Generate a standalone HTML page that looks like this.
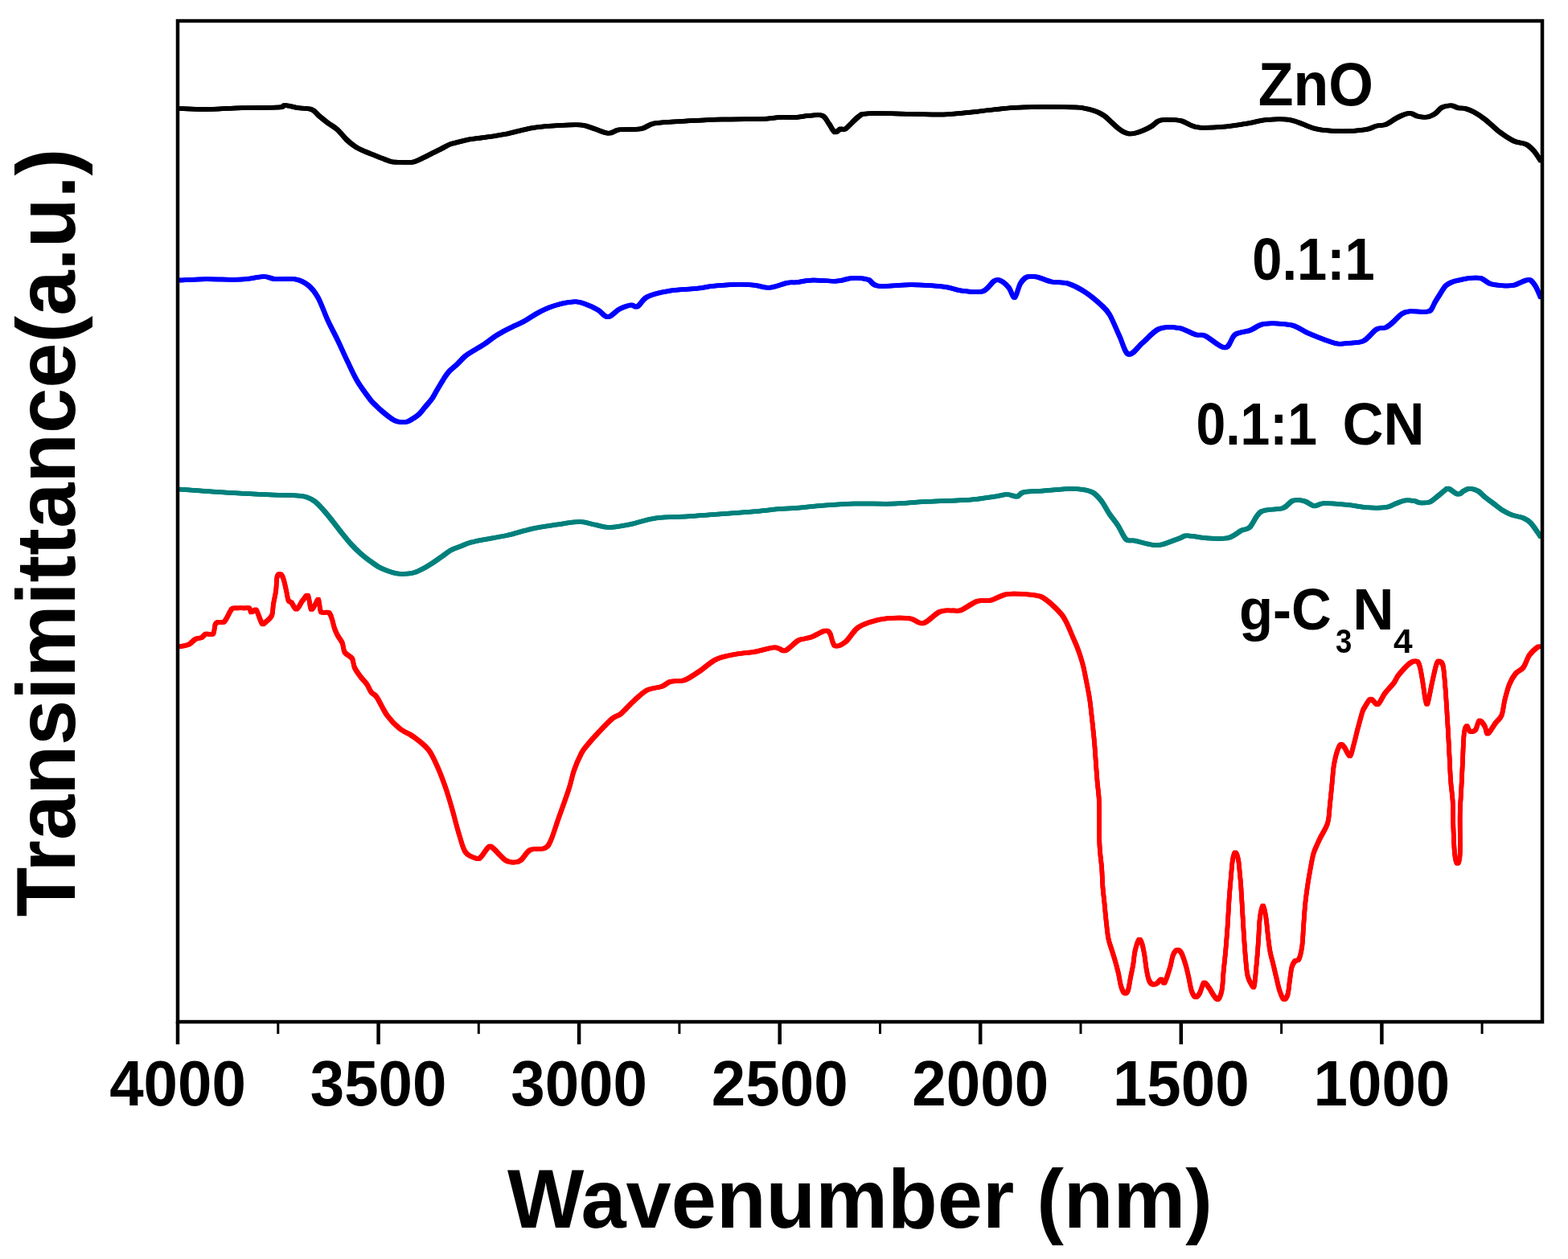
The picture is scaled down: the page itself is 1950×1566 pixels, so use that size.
<!DOCTYPE html><html><head><meta charset="utf-8"><title>FTIR</title><style>html,body{margin:0;padding:0;background:#fff;overflow:hidden}svg{display:block}text{font-family:"Liberation Sans",Arial,sans-serif;font-weight:bold;fill:#000}</style></head><body>
<svg width="1950" height="1566" viewBox="0 0 1950 1566">
<rect x="0" y="0" width="1950" height="1566" fill="#fff"/>
<defs><path id="ck" fill="none" stroke="#000" stroke-linejoin="round" stroke-linecap="round" d="M223.2,135.0C228.7,135.2 243.0,136.1 256.0,136.0C269.0,135.9 285.9,134.6 301.0,134.2C316.1,133.8 337.4,134.1 346.3,133.6C355.2,133.1 350.4,131.0 354.5,131.1C358.6,131.2 365.4,133.3 371.0,134.2C376.6,135.1 383.6,134.6 387.9,136.3C392.2,138.0 393.5,141.4 396.9,144.2C400.3,147.0 404.4,150.4 408.2,153.2C412.0,156.0 415.7,157.7 419.5,161.1C423.3,164.5 427.1,169.9 430.8,173.5C434.6,177.1 438.2,180.1 442.0,182.5C445.8,184.9 449.5,186.5 453.3,188.2C457.1,189.9 460.8,191.2 464.6,192.7C468.4,194.2 472.1,195.8 475.9,197.2C479.7,198.6 483.4,200.4 487.2,201.2C491.0,201.9 494.2,201.6 498.5,201.7C502.8,201.8 508.4,202.6 513.1,201.7C517.8,200.8 522.6,198.0 526.7,196.1C530.8,194.2 534.1,192.3 537.9,190.4C541.6,188.5 545.4,186.7 549.2,184.8C553.0,182.9 556.7,180.6 560.5,179.2C564.3,177.8 568.0,177.2 571.8,176.3C575.6,175.4 578.4,174.3 583.1,173.5C587.8,172.7 592.0,172.5 600.0,171.3C608.0,170.1 620.5,168.4 630.8,166.4C641.0,164.4 651.2,160.9 661.5,159.2C671.8,157.5 682.0,156.8 692.3,156.2C702.5,155.6 715.1,154.8 723.0,155.5C730.9,156.2 733.8,158.6 739.5,160.3C745.2,162.0 751.9,165.6 757.0,165.8C762.1,166.0 763.6,162.2 770.3,161.3C777.0,160.4 789.8,161.6 797.0,160.3C804.2,159.0 805.1,155.1 813.3,153.5C821.5,151.9 832.0,151.8 846.0,151.0C860.0,150.2 880.3,149.1 897.4,148.6C914.5,148.1 936.7,148.4 948.7,148.0C960.7,147.6 962.3,146.2 969.2,145.9C976.1,145.6 983.8,146.2 990.0,145.9C996.2,145.6 1000.9,144.2 1006.4,143.8C1011.9,143.5 1018.7,142.1 1022.8,143.8C1026.9,145.5 1028.4,150.7 1031.0,154.1C1033.6,157.5 1035.8,163.4 1038.2,164.4C1040.6,165.4 1043.2,161.0 1045.4,160.3C1047.6,159.6 1047.7,162.9 1051.5,160.3C1055.3,157.7 1063.2,148.1 1068.0,144.9C1072.8,141.7 1069.4,141.7 1080.3,141.2C1091.2,140.7 1117.9,141.6 1133.6,141.8C1149.3,142.0 1160.9,142.9 1174.6,142.4C1188.3,141.9 1201.9,140.1 1215.6,138.7C1229.3,137.3 1243.0,135.1 1256.7,134.2C1270.4,133.2 1284.0,133.1 1297.7,133.0C1311.4,132.9 1329.9,133.2 1338.7,133.6C1347.5,133.9 1346.8,134.5 1350.3,135.1C1353.8,135.7 1357.0,136.6 1359.5,137.4C1362.0,138.2 1363.3,138.6 1365.6,139.7C1367.9,140.8 1370.7,142.2 1373.3,144.1C1375.9,145.9 1378.4,148.5 1381.0,150.8C1383.6,153.1 1386.1,155.9 1388.7,158.0C1391.3,160.1 1393.8,162.2 1396.4,163.6C1399.0,165.0 1401.5,166.1 1404.1,166.4C1406.7,166.7 1408.8,166.3 1411.8,165.6C1414.8,164.9 1418.6,163.5 1422.0,162.1C1425.4,160.7 1429.3,158.8 1432.3,156.9C1435.3,155.0 1437.4,152.1 1440.0,150.8C1442.6,149.5 1443.0,149.1 1447.7,149.0C1452.4,148.9 1461.4,148.5 1468.2,150.0C1475.0,151.5 1479.5,156.9 1488.7,158.2C1497.9,159.5 1512.6,158.5 1523.6,157.6C1534.5,156.7 1545.9,154.4 1554.4,153.0C1563.0,151.6 1566.4,149.6 1574.9,149.0C1583.4,148.4 1595.3,147.5 1605.6,149.4C1615.8,151.3 1626.1,158.0 1636.4,160.3C1646.7,162.6 1656.9,163.1 1667.2,163.3C1677.5,163.5 1690.6,162.4 1698.0,161.3C1705.4,160.2 1707.5,157.7 1711.8,156.6C1716.1,155.5 1719.7,156.3 1723.6,154.8C1727.5,153.3 1731.9,149.7 1735.4,147.7C1738.9,145.7 1741.7,144.1 1744.8,143.0C1747.9,141.9 1751.1,140.6 1754.3,140.9C1757.5,141.2 1760.2,144.1 1763.7,144.8C1767.2,145.6 1772.0,146.0 1775.5,145.4C1779.0,144.8 1782.0,143.3 1784.9,141.3C1787.9,139.3 1789.9,135.3 1793.2,133.6C1796.5,131.9 1801.7,131.1 1805.0,131.2C1808.3,131.3 1810.5,133.6 1813.2,134.2C1816.0,134.8 1818.2,133.9 1821.5,134.8C1824.8,135.7 1829.0,137.2 1833.3,139.5C1837.6,141.8 1842.1,144.8 1847.4,148.9C1852.7,153.0 1859.2,159.9 1865.1,164.3C1871.0,168.7 1877.3,172.9 1882.8,175.5C1888.3,178.1 1894.1,177.5 1898.2,179.6C1902.3,181.7 1904.7,184.5 1907.6,187.8C1910.5,191.1 1914.4,197.6 1915.8,199.6"/><path id="cb" fill="none" stroke="#0000ff" stroke-linejoin="round" stroke-linecap="round" d="M222.2,348.6C227.8,348.4 242.8,347.4 256.0,347.2C269.2,347.0 289.2,348.2 301.2,347.6C313.2,347.1 321.0,344.0 327.8,343.9C334.6,343.8 335.7,346.6 342.2,347.2C348.7,347.8 360.0,345.9 366.8,347.2C373.6,348.4 378.4,350.9 383.2,354.7C388.0,358.5 391.4,362.8 395.5,370.1C399.6,377.5 403.7,389.9 407.8,398.8C411.9,407.7 416.0,414.9 420.1,423.5C424.2,432.1 428.3,441.6 432.4,450.1C436.5,458.6 440.1,467.0 444.7,474.7C449.3,482.4 456.2,491.4 460.0,496.4C463.8,501.4 465.1,502.0 467.7,504.6C470.3,507.2 472.8,509.6 475.4,511.8C478.0,514.0 480.5,516.0 483.1,517.9C485.7,519.8 488.2,521.9 490.8,523.1C493.4,524.3 495.9,524.9 498.5,525.1C501.1,525.4 503.6,525.4 506.2,524.6C508.8,523.8 511.2,522.1 513.8,520.5C516.3,518.9 518.9,517.4 521.5,514.9C524.1,512.4 526.6,508.7 529.2,505.6C531.8,502.5 534.6,499.6 536.9,496.4C539.2,493.2 540.5,490.3 542.9,486.2C545.3,482.1 548.9,475.8 551.5,471.8C554.1,467.8 555.5,465.2 558.4,462.1C561.3,459.0 565.2,456.2 568.7,452.9C572.2,449.6 575.3,445.6 579.1,442.5C582.9,439.4 587.7,437.0 591.7,434.5C595.7,432.0 599.4,430.2 603.2,427.6C607.0,425.0 610.9,421.6 614.7,419.0C618.5,416.4 622.4,414.2 626.2,412.1C630.0,410.0 633.5,408.3 637.7,406.3C641.9,404.3 645.6,403.0 651.3,399.9C657.0,396.8 665.0,391.0 671.8,387.6C678.6,384.2 685.1,381.4 692.3,379.4C699.5,377.3 709.1,375.6 714.9,375.3C720.7,375.1 722.4,376.2 727.2,377.9C732.0,379.6 738.8,382.8 743.6,385.5C748.4,388.2 751.5,394.5 755.9,394.3C760.3,394.1 765.5,387.0 770.3,384.5C775.1,382.0 780.9,379.9 784.6,379.4C788.4,378.9 789.4,383.1 792.8,381.4C796.2,379.7 798.6,372.4 805.1,369.1C811.6,365.9 821.5,363.6 831.8,361.9C842.1,360.2 857.5,359.8 866.7,358.8C875.9,357.8 878.7,356.7 887.2,355.8C895.8,354.9 909.5,353.9 918.0,353.7C926.5,353.5 932.0,354.0 938.5,354.7C945.0,355.4 950.1,358.3 956.9,357.8C963.7,357.3 974.0,352.8 979.5,351.7C985.0,350.6 984.8,351.8 990.0,351.3C995.2,350.8 1002.0,348.9 1010.5,348.6C1019.0,348.3 1033.8,350.0 1041.3,349.6C1048.8,349.2 1051.1,347.1 1055.6,346.5C1060.0,345.9 1063.9,345.6 1068.0,345.9C1072.1,346.1 1076.2,346.4 1080.3,348.0C1084.4,349.6 1083.7,354.8 1092.6,355.8C1101.5,356.9 1119.9,354.1 1133.6,354.3C1147.3,354.5 1164.3,355.6 1174.6,356.8C1184.8,358.0 1187.2,360.6 1195.1,361.5C1203.0,362.4 1214.9,364.5 1221.8,362.5C1228.7,360.5 1232.4,351.8 1236.2,349.6C1240.0,347.4 1241.3,347.8 1244.4,349.2C1247.5,350.6 1251.7,354.3 1254.6,357.8C1257.5,361.3 1259.4,371.0 1261.8,370.1C1264.2,369.2 1266.4,357.0 1269.0,352.7C1271.6,348.4 1273.8,345.9 1277.2,344.5C1280.6,343.1 1284.4,343.5 1289.5,344.5C1294.6,345.5 1301.5,349.2 1308.0,350.6C1314.5,352.0 1321.7,350.6 1328.5,352.7C1335.3,354.8 1342.2,358.6 1349.0,363.0C1355.8,367.4 1364.3,374.6 1369.5,379.4C1374.7,384.1 1376.2,385.0 1380.0,391.5C1383.8,398.0 1388.4,410.0 1392.3,418.2C1396.2,426.4 1398.8,439.4 1403.6,440.8C1408.4,442.2 1414.7,431.7 1421.0,426.4C1427.3,421.1 1434.0,412.1 1441.5,409.0C1449.0,405.9 1458.7,406.8 1466.2,408.0C1473.7,409.2 1481.2,414.6 1486.7,416.2C1492.2,417.8 1492.8,415.1 1499.0,417.8C1505.2,420.5 1517.4,432.9 1523.6,432.6C1529.8,432.3 1530.8,419.8 1535.9,416.2C1541.0,412.6 1548.2,413.2 1554.4,411.0C1560.6,408.8 1564.3,403.9 1572.8,402.8C1581.3,401.7 1596.7,402.4 1605.6,404.3C1614.5,406.2 1619.3,411.1 1626.2,414.1C1633.1,417.1 1640.6,420.1 1646.7,422.3C1652.8,424.5 1658.0,426.6 1663.1,427.4C1668.2,428.1 1671.9,427.4 1677.4,426.8C1682.9,426.2 1690.2,426.9 1695.9,424.0C1701.6,421.1 1707.2,412.4 1711.8,409.6C1716.4,406.8 1720.1,408.9 1723.6,407.3C1727.1,405.7 1729.7,403.1 1733.0,400.2C1736.3,397.3 1740.2,392.4 1743.6,390.2C1746.9,388.0 1748.6,387.6 1753.1,387.2C1757.6,386.8 1766.5,388.0 1770.8,387.8C1775.1,387.6 1776.7,388.2 1779.0,386.1C1781.3,384.0 1782.9,378.8 1784.9,375.4C1786.9,372.0 1788.6,369.3 1790.8,366.0C1793.0,362.7 1795.3,357.9 1797.9,355.4C1800.5,352.8 1802.9,352.0 1806.2,350.7C1809.5,349.4 1814.5,348.5 1818.0,347.7C1821.5,346.9 1823.5,346.3 1827.4,346.0C1831.3,345.7 1837.2,344.8 1841.5,346.0C1845.8,347.2 1848.4,351.4 1853.3,353.0C1858.2,354.6 1866.1,355.1 1871.0,355.4C1875.9,355.7 1879.5,355.5 1882.8,354.8C1886.1,354.1 1888.3,352.4 1891.1,351.3C1893.8,350.2 1897.1,348.7 1899.3,348.3C1901.5,347.9 1902.2,347.5 1904.0,348.9C1905.8,350.3 1908.0,353.2 1910.0,356.6C1912.0,360.0 1914.8,367.4 1915.8,369.5"/><path id="ct" fill="none" stroke="#00807c" stroke-linejoin="round" stroke-linecap="round" d="M222.2,608.5C227.8,608.9 243.5,610.0 256.0,610.9C268.5,611.8 283.3,612.8 297.0,613.6C310.7,614.4 325.9,615.1 338.1,615.6C350.3,616.1 363.0,616.1 370.0,616.5C377.0,616.9 376.4,616.7 380.0,617.9C383.6,619.1 387.5,620.7 391.3,623.5C395.1,626.3 398.9,630.6 402.6,634.8C406.4,638.9 410.1,643.7 413.8,648.4C417.6,653.1 421.3,658.3 425.1,663.0C428.9,667.7 432.6,672.5 436.4,676.6C440.2,680.7 443.9,684.4 447.7,687.8C451.5,691.2 455.2,694.1 459.0,696.9C462.8,699.7 466.6,702.6 470.3,704.8C474.1,706.9 477.8,708.4 481.5,709.8C485.2,711.2 489.0,712.5 492.8,713.2C496.6,713.9 500.3,714.0 504.1,713.8C507.9,713.6 511.6,713.2 515.4,712.1C519.2,711.0 523.0,709.0 526.7,707.0C530.5,705.0 534.1,702.7 537.9,700.3C541.6,697.9 545.4,695.0 549.2,692.4C553.0,689.8 556.7,686.6 560.5,684.5C564.3,682.4 568.0,681.4 571.8,679.9C575.6,678.4 578.4,676.8 583.1,675.4C587.8,674.0 592.0,673.1 600.0,671.5C608.0,669.9 620.5,668.2 630.8,665.9C641.0,663.6 651.2,659.9 661.5,657.7C671.8,655.5 682.4,654.0 692.3,652.6C702.2,651.2 713.1,649.1 721.0,649.1C728.9,649.1 733.3,651.5 739.5,652.6C745.7,653.8 750.5,656.1 758.0,656.0C765.5,655.9 775.0,653.9 784.6,652.0C794.2,650.1 803.4,646.0 815.4,644.4C827.4,642.8 842.7,643.2 856.4,642.3C870.1,641.4 883.7,640.2 897.4,639.2C911.1,638.2 926.5,637.2 938.5,636.2C950.5,635.2 960.6,633.8 969.2,633.1C977.8,632.4 981.4,632.7 990.0,632.0C998.6,631.3 1008.8,629.9 1020.8,629.0C1032.8,628.1 1046.4,626.9 1061.8,626.5C1077.2,626.1 1097.6,627.0 1113.0,626.5C1128.4,626.0 1138.7,624.6 1154.1,623.8C1169.5,623.0 1191.7,622.8 1205.4,621.8C1219.1,620.8 1228.3,618.8 1236.2,617.7C1244.1,616.6 1247.8,615.0 1252.6,615.0C1257.4,615.0 1261.5,618.2 1264.9,617.7C1268.3,617.2 1267.6,613.4 1273.1,612.2C1278.6,611.0 1288.5,611.2 1297.7,610.5C1306.9,609.8 1320.3,608.3 1328.5,608.0C1336.7,607.7 1341.8,608.1 1346.9,608.9C1352.0,609.7 1355.4,610.3 1359.2,612.6C1363.0,614.9 1366.1,618.4 1369.5,622.8C1372.9,627.2 1376.2,634.1 1379.7,639.2C1383.2,644.3 1386.8,648.3 1390.3,653.6C1393.8,658.9 1397.1,667.9 1400.5,671.0C1403.9,674.1 1405.3,671.4 1410.8,672.5C1416.3,673.6 1427.5,677.0 1433.3,677.8C1439.1,678.6 1439.8,678.7 1445.6,677.2C1451.4,675.7 1463.1,670.8 1468.2,669.0C1473.3,667.2 1470.6,666.2 1476.4,666.3C1482.2,666.4 1494.5,669.1 1503.1,669.6C1511.6,670.1 1520.9,670.6 1527.7,669.0C1534.5,667.4 1539.6,661.9 1544.1,659.7C1548.5,657.5 1550.3,659.5 1554.4,655.6C1558.5,651.7 1561.9,640.1 1568.7,636.2C1575.5,632.3 1588.9,634.3 1595.4,632.1C1601.9,629.9 1603.2,624.3 1607.7,622.8C1612.2,621.3 1617.6,622.1 1622.1,623.2C1626.5,624.3 1630.3,629.0 1634.4,629.4C1638.5,629.8 1639.5,626.1 1646.7,625.9C1653.9,625.7 1668.5,627.1 1677.4,628.0C1686.3,628.9 1692.3,630.8 1700.0,631.3C1707.7,631.8 1717.7,631.8 1723.6,631.0C1729.5,630.2 1731.5,628.0 1735.4,626.6C1739.3,625.2 1743.3,623.1 1747.2,622.5C1751.1,621.9 1755.9,622.6 1759.0,623.1C1762.1,623.6 1762.9,625.1 1766.0,625.4C1769.1,625.6 1774.2,625.9 1777.8,624.6C1781.3,623.3 1784.1,620.1 1787.3,617.7C1790.5,615.3 1794.3,611.8 1796.7,610.1C1799.1,608.4 1798.7,606.9 1801.4,607.7C1804.2,608.5 1810.1,614.3 1813.2,614.8C1816.3,615.3 1817.9,611.9 1820.3,610.7C1822.7,609.5 1824.5,607.7 1827.4,607.7C1830.4,607.7 1834.7,608.8 1838.0,610.7C1841.3,612.6 1844.2,616.4 1847.4,618.9C1850.6,621.4 1853.4,623.4 1856.9,626.0C1860.5,628.6 1864.8,632.3 1868.7,634.8C1872.6,637.2 1876.2,639.1 1880.5,640.7C1884.8,642.3 1890.7,642.6 1894.6,644.3C1898.5,646.0 1900.5,647.0 1904.0,650.8C1907.5,654.6 1913.8,664.5 1915.8,667.3"/><path id="cr" fill="none" stroke="#ff0000" stroke-linejoin="round" stroke-linecap="round" d="M222.0,804.5C223.2,804.3 226.8,803.7 229.1,803.2C231.3,802.7 233.2,802.7 235.5,801.3C237.8,799.9 240.6,796.3 243.2,794.9C245.8,793.5 248.8,794.1 250.9,793.0C253.0,791.9 253.7,789.2 256.0,788.5C258.4,787.8 263.1,790.4 265.0,788.5C266.9,786.6 266.5,779.4 267.6,776.9C268.7,774.4 269.5,774.3 271.4,773.7C273.3,773.1 276.3,775.8 279.1,773.1C281.9,770.4 285.5,760.5 288.1,757.7C290.7,754.9 291.9,756.6 294.5,756.4C297.1,756.2 300.9,756.4 303.5,756.4C306.1,756.4 308.4,755.5 309.9,756.4C311.4,757.2 311.1,761.2 312.4,761.5C313.7,761.8 316.3,758.3 317.6,758.3C318.9,758.3 318.7,758.6 320.1,761.5C321.5,764.4 324.2,773.6 325.9,775.6C327.6,777.6 328.4,775.4 330.4,773.7C332.4,772.0 336.5,769.1 338.1,765.4C339.7,761.7 339.1,756.4 340.0,751.3C340.9,746.2 342.4,740.1 343.2,734.6C343.9,729.1 343.6,721.4 344.5,718.0C345.4,714.6 347.0,713.9 348.3,714.1C349.6,714.3 350.9,715.8 352.2,719.2C353.5,722.6 354.9,730.0 356.0,734.6C357.1,739.2 357.5,744.3 358.6,746.8C359.7,749.3 360.7,747.6 362.4,749.4C364.1,751.2 366.4,758.1 368.8,757.7C371.2,757.3 374.1,749.6 376.5,746.8C378.9,744.0 381.3,739.2 383.0,741.0C384.7,742.8 385.3,755.9 386.8,757.7C388.3,759.5 390.4,753.9 391.9,751.9C393.4,749.9 394.9,745.4 395.8,745.5C396.7,745.6 396.7,749.6 397.3,752.3C397.9,755.0 397.7,759.9 399.6,761.5C401.5,763.1 406.6,760.6 408.8,761.9C411.0,763.2 411.5,766.1 412.6,769.2C413.8,772.3 414.6,777.3 415.7,780.7C416.8,784.1 417.8,786.6 419.5,789.8C421.2,793.0 424.2,796.2 425.7,799.8C427.2,803.4 426.7,808.1 428.7,811.3C430.7,814.5 435.8,815.8 437.9,819.0C439.9,822.2 439.2,826.7 441.0,830.5C442.8,834.3 446.1,838.6 448.6,842.0C451.2,845.4 454.1,847.9 456.3,851.1C458.5,854.3 459.6,858.4 461.7,861.1C463.8,863.8 465.3,862.5 468.6,867.2C471.9,872.0 476.6,883.2 481.3,889.6C486.0,896.0 490.9,901.3 496.6,905.9C502.4,910.5 509.7,912.9 515.8,917.4C521.9,921.9 528.2,926.5 533.0,932.7C537.8,938.9 541.0,947.0 544.5,954.8C548.0,962.6 551.2,971.4 554.1,979.7C557.0,988.0 558.9,994.7 561.8,1004.6C564.7,1014.5 568.4,1029.8 571.3,1039.0C574.2,1048.2 575.5,1055.3 579.0,1060.1C582.5,1064.9 589.2,1066.8 592.4,1067.8C595.6,1068.8 595.7,1068.3 598.2,1065.9C600.8,1063.5 605.2,1055.2 607.7,1053.4C610.2,1051.6 610.0,1052.5 613.5,1055.3C617.0,1058.1 624.3,1067.2 628.8,1070.1C633.3,1073.0 637.1,1072.7 640.3,1072.6C643.5,1072.5 644.8,1072.3 648.0,1069.7C651.2,1067.1 654.7,1059.6 659.5,1057.2C664.3,1054.8 672.6,1057.0 676.7,1055.3C680.9,1053.5 681.5,1052.6 684.4,1046.7C687.3,1040.8 690.1,1030.8 693.9,1019.9C697.7,1009.0 704.1,991.8 707.4,981.6C710.7,971.4 711.2,966.0 713.8,958.5C716.4,951.0 720.3,942.3 723.1,936.9C725.9,931.5 727.5,930.3 730.8,926.2C734.1,922.1 738.0,917.7 743.1,912.3C748.2,906.9 756.6,897.9 761.5,893.8C766.4,889.7 767.9,891.3 772.3,887.7C776.7,884.1 782.3,877.2 787.7,872.3C793.1,867.4 798.7,861.6 804.6,858.5C810.5,855.4 818.2,855.6 823.1,853.8C828.0,852.0 829.2,849.0 833.8,847.7C838.4,846.4 844.9,848.2 850.8,846.2C856.7,844.2 862.8,839.6 869.2,835.4C875.6,831.2 883.0,824.1 889.2,820.8C895.4,817.5 901.3,816.7 906.2,815.4C911.1,814.1 913.1,813.9 918.5,813.1C923.9,812.3 931.3,812.1 938.5,810.8C945.7,809.5 956.4,806.0 961.5,805.4C966.6,804.8 966.6,806.3 969.2,806.9C971.8,807.5 973.0,810.9 976.9,809.2C980.8,807.5 988.4,799.3 992.3,796.9C996.1,794.5 997.0,795.5 1000.0,794.6C1003.0,793.8 1006.2,793.5 1010.5,791.8C1014.8,790.1 1022.3,785.3 1025.9,784.6C1029.5,783.9 1030.0,784.6 1032.1,787.7C1034.1,790.8 1035.0,801.3 1038.2,803.1C1041.4,804.9 1046.9,802.0 1051.5,798.4C1056.1,794.8 1060.8,785.6 1065.9,781.5C1071.0,777.4 1076.2,775.8 1082.3,773.7C1088.4,771.7 1094.6,770.0 1102.8,769.2C1111.0,768.5 1124.0,768.2 1131.5,769.2C1139.0,770.2 1141.8,776.8 1148.0,775.4C1154.2,774.0 1162.3,763.7 1168.5,761.0C1174.7,758.3 1180.5,759.7 1184.9,759.4C1189.3,759.1 1190.0,761.0 1195.1,759.0C1200.2,757.0 1209.4,749.8 1215.6,747.7C1221.8,745.7 1225.8,748.2 1232.0,746.7C1238.2,745.2 1244.7,740.1 1252.6,738.9C1260.5,737.7 1272.7,738.9 1279.6,739.4C1286.5,739.9 1289.9,740.4 1293.9,741.8C1297.9,743.2 1300.3,745.5 1303.5,748.0C1306.7,750.5 1310.1,753.6 1313.1,756.6C1316.1,759.6 1319.3,762.9 1321.7,766.2C1324.1,769.6 1325.6,772.7 1327.5,776.7C1329.4,780.7 1331.3,785.6 1333.2,790.1C1335.1,794.6 1337.2,799.0 1339.0,803.5C1340.8,808.0 1342.4,812.5 1343.8,817.0C1345.2,821.5 1346.5,825.8 1347.6,830.4C1348.7,835.0 1349.5,839.9 1350.5,844.7C1351.5,849.5 1352.4,854.3 1353.3,859.1C1354.2,863.9 1354.9,867.2 1355.7,873.5C1356.5,879.8 1357.4,888.5 1358.3,896.6C1359.2,904.7 1360.2,913.7 1360.9,922.2C1361.7,930.7 1362.2,939.2 1362.8,947.7C1363.4,956.2 1364.0,964.8 1364.7,973.3C1365.4,981.8 1366.5,986.0 1367.0,998.8C1367.5,1011.5 1366.9,1036.3 1367.4,1049.8C1367.9,1063.3 1369.6,1071.3 1370.2,1080.0C1370.8,1088.7 1370.8,1094.5 1371.3,1101.7C1371.8,1108.9 1372.8,1116.2 1373.5,1123.4C1374.2,1130.6 1374.8,1137.8 1375.6,1145.1C1376.4,1152.3 1377.2,1161.1 1378.3,1166.9C1379.4,1172.7 1380.7,1175.4 1382.1,1179.9C1383.5,1184.4 1385.0,1188.9 1386.5,1194.0C1388.0,1199.1 1389.5,1204.9 1390.8,1210.3C1392.1,1215.7 1392.8,1222.4 1394.1,1226.6C1395.4,1230.8 1397.0,1234.4 1398.4,1235.3C1399.9,1236.2 1401.5,1235.3 1402.8,1232.0C1404.1,1228.7 1404.9,1221.1 1406.0,1215.7C1407.1,1210.3 1408.4,1204.8 1409.3,1199.4C1410.2,1194.0 1410.3,1188.2 1411.5,1183.1C1412.7,1178.0 1414.9,1170.6 1416.3,1169.0C1417.7,1167.4 1418.9,1170.1 1420.1,1173.4C1421.3,1176.7 1422.5,1183.3 1423.4,1188.6C1424.3,1193.8 1424.7,1199.8 1425.6,1204.9C1426.5,1210.0 1427.5,1215.8 1428.8,1219.0C1430.1,1222.2 1431.6,1223.7 1433.2,1224.4C1434.8,1225.1 1436.8,1224.4 1438.6,1223.3C1440.4,1222.2 1442.4,1218.1 1444.0,1217.9C1445.6,1217.7 1446.6,1224.6 1448.4,1222.2C1450.2,1219.8 1453.3,1209.0 1455.1,1203.3C1456.8,1197.6 1457.4,1191.5 1458.9,1187.9C1460.4,1184.3 1462.3,1181.9 1464.0,1181.5C1465.7,1181.1 1467.5,1182.4 1469.2,1185.4C1470.9,1188.4 1472.8,1194.5 1474.3,1199.4C1475.8,1204.3 1476.8,1209.3 1478.1,1214.8C1479.4,1220.3 1480.4,1228.3 1481.9,1232.6C1483.4,1236.8 1485.3,1239.9 1487.0,1240.3C1488.7,1240.7 1490.4,1238.2 1492.1,1235.2C1493.8,1232.2 1495.4,1223.5 1497.3,1222.4C1499.2,1221.3 1501.5,1226.0 1503.6,1228.8C1505.7,1231.6 1508.1,1236.7 1510.0,1239.0C1511.9,1241.3 1513.5,1244.1 1515.1,1242.8C1516.7,1241.5 1518.5,1236.9 1519.6,1231.4C1520.7,1225.9 1520.8,1217.5 1521.5,1209.6C1522.2,1201.7 1523.2,1193.7 1524.1,1184.1C1524.9,1174.5 1525.9,1162.8 1526.6,1152.2C1527.3,1141.6 1527.8,1130.9 1528.5,1120.2C1529.2,1109.5 1530.3,1096.8 1531.1,1088.3C1531.8,1079.8 1532.2,1073.9 1533.0,1069.2C1533.8,1064.5 1535.0,1060.2 1536.2,1060.2C1537.4,1060.2 1539.0,1064.5 1540.0,1069.2C1541.0,1073.9 1541.5,1083.0 1542.0,1088.3C1542.5,1093.6 1542.7,1093.6 1543.2,1101.1C1543.7,1108.5 1544.5,1122.4 1545.1,1133.0C1545.7,1143.6 1546.4,1155.3 1547.0,1164.9C1547.6,1174.5 1548.2,1182.4 1548.9,1190.5C1549.7,1198.6 1550.2,1207.8 1551.5,1213.5C1552.8,1219.2 1555.2,1222.9 1556.6,1225.0C1558.0,1227.1 1558.8,1229.8 1559.8,1226.2C1560.8,1222.6 1561.4,1212.5 1562.3,1203.3C1563.2,1194.1 1564.2,1181.5 1564.9,1171.3C1565.7,1161.1 1565.8,1149.5 1566.8,1142.0C1567.8,1134.5 1569.4,1126.6 1570.7,1126.6C1572.0,1126.6 1573.5,1135.6 1574.5,1142.0C1575.5,1148.4 1576.2,1157.9 1577.0,1164.9C1577.8,1171.9 1578.5,1178.3 1579.6,1184.1C1580.7,1189.8 1582.1,1194.1 1583.4,1199.4C1584.7,1204.7 1586.0,1210.7 1587.3,1216.0C1588.6,1221.3 1589.6,1226.9 1591.1,1231.4C1592.6,1235.9 1594.5,1241.8 1596.2,1242.8C1597.9,1243.8 1600.0,1241.5 1601.3,1237.7C1602.6,1233.9 1603.1,1225.6 1603.9,1219.9C1604.8,1214.2 1605.4,1207.3 1606.4,1203.3C1607.5,1199.2 1608.7,1197.3 1610.2,1195.6C1611.7,1193.9 1613.9,1196.0 1615.4,1193.0C1616.9,1190.0 1618.2,1184.5 1619.2,1177.7C1620.2,1170.9 1620.5,1160.7 1621.1,1152.2C1621.7,1143.7 1622.2,1135.1 1623.0,1126.6C1623.8,1118.1 1625.1,1108.5 1626.2,1101.1C1627.3,1093.6 1628.2,1088.3 1629.4,1081.9C1630.6,1075.5 1631.9,1067.7 1633.2,1062.8C1634.5,1057.9 1635.7,1055.9 1637.1,1052.6C1638.5,1049.3 1639.2,1047.7 1641.5,1042.9C1643.8,1038.1 1649.0,1030.7 1651.1,1023.7C1653.2,1016.7 1653.0,1009.3 1653.9,1000.7C1654.9,992.1 1656.0,980.0 1656.8,972.0C1657.6,964.0 1657.7,958.9 1658.7,952.8C1659.7,946.7 1661.1,940.1 1662.6,935.6C1664.0,931.1 1665.8,927.0 1667.4,926.0C1669.0,925.0 1670.2,927.4 1672.1,929.8C1674.0,932.2 1677.0,941.0 1678.9,940.4C1680.8,939.8 1682.0,931.6 1683.6,926.0C1685.2,920.4 1686.6,913.6 1688.4,906.9C1690.2,900.2 1692.8,890.3 1694.2,885.8C1695.6,881.3 1695.2,882.7 1697.0,880.0C1698.8,877.3 1702.0,870.1 1704.7,869.5C1707.4,868.9 1710.4,877.3 1713.3,876.2C1716.2,875.1 1718.7,867.3 1722.0,862.8C1725.3,858.3 1730.5,853.2 1733.4,849.4C1736.3,845.6 1736.0,843.8 1739.2,839.8C1742.4,835.8 1748.8,828.3 1752.6,825.4C1756.4,822.5 1760.0,821.8 1762.2,822.6C1764.4,823.4 1764.7,825.4 1766.0,830.2C1767.3,835.0 1768.7,844.6 1769.8,851.3C1770.9,858.0 1771.7,866.7 1772.7,870.5C1773.7,874.3 1774.2,878.1 1775.6,874.3C1777.0,870.5 1779.4,855.8 1781.3,847.5C1783.2,839.2 1785.3,828.5 1787.1,824.5C1788.9,820.5 1790.6,822.6 1791.9,823.5C1793.2,824.4 1794.1,824.8 1795.0,830.0C1795.9,835.2 1796.7,846.6 1797.4,854.9C1798.1,863.2 1798.5,870.9 1799.1,879.8C1799.7,888.6 1800.2,898.3 1800.8,908.0C1801.3,917.7 1801.9,927.4 1802.4,937.9C1803.0,948.4 1803.4,961.4 1804.1,971.1C1804.8,980.8 1806.0,986.3 1806.6,996.0C1807.1,1005.7 1807.0,1018.1 1807.4,1029.2C1807.8,1040.3 1808.3,1054.9 1809.1,1062.4C1809.9,1069.9 1811.3,1074.0 1812.4,1074.0C1813.5,1074.0 1815.2,1072.6 1815.7,1062.4C1816.2,1052.2 1815.4,1026.4 1815.7,1012.6C1816.0,998.8 1816.9,990.5 1817.4,979.4C1818.0,968.3 1818.5,957.3 1819.0,946.2C1819.5,935.1 1819.9,920.2 1820.7,913.0C1821.5,905.8 1822.8,903.6 1824.0,903.1C1825.2,902.6 1826.3,908.9 1828.1,909.7C1829.9,910.5 1832.8,910.2 1834.8,908.0C1836.8,905.8 1837.9,897.2 1839.8,896.4C1841.7,895.6 1844.7,900.4 1846.4,903.1C1848.2,905.8 1848.0,913.2 1850.3,912.6C1852.5,912.0 1857.0,903.0 1859.9,899.2C1862.8,895.4 1865.6,894.4 1867.5,889.6C1869.4,884.8 1869.8,876.9 1871.4,870.5C1873.0,864.1 1874.9,856.7 1877.1,851.3C1879.3,845.9 1881.9,841.4 1884.8,837.9C1887.7,834.4 1891.5,834.0 1894.4,830.2C1897.3,826.4 1899.1,819.0 1902.0,814.9C1904.9,810.8 1909.4,807.0 1911.6,805.3C1913.8,803.5 1914.8,804.5 1915.4,804.4"/></defs>
<use href="#ck" stroke-width="5.5"/><use href="#ck" x="-1.45" y="-1.45" stroke-width="2.6"/><use href="#ck" x="1.45" y="-1.45" stroke-width="2.6"/><use href="#ck" x="-1.45" y="1.45" stroke-width="2.6"/><use href="#ck" x="1.45" y="1.45" stroke-width="2.6"/><use href="#cb" stroke-width="5.5"/><use href="#cb" x="-1.45" y="-1.45" stroke-width="2.6"/><use href="#cb" x="1.45" y="-1.45" stroke-width="2.6"/><use href="#cb" x="-1.45" y="1.45" stroke-width="2.6"/><use href="#cb" x="1.45" y="1.45" stroke-width="2.6"/><use href="#ct" stroke-width="5.5"/><use href="#ct" x="-1.45" y="-1.45" stroke-width="2.6"/><use href="#ct" x="1.45" y="-1.45" stroke-width="2.6"/><use href="#ct" x="-1.45" y="1.45" stroke-width="2.6"/><use href="#ct" x="1.45" y="1.45" stroke-width="2.6"/><use href="#cr" stroke-width="5.5"/><use href="#cr" x="-1.45" y="-1.45" stroke-width="2.6"/><use href="#cr" x="1.45" y="-1.45" stroke-width="2.6"/><use href="#cr" x="-1.45" y="1.45" stroke-width="2.6"/><use href="#cr" x="1.45" y="1.45" stroke-width="2.6"/>
<rect x="221" y="26" width="1697" height="1245" fill="none" stroke="#000" stroke-width="4.5"/>
<line x1="221.0" y1="1271" x2="221.0" y2="1299" stroke="#000" stroke-width="4.5"/><line x1="345.8" y1="1271" x2="345.8" y2="1286" stroke="#000" stroke-width="3"/><line x1="470.6" y1="1271" x2="470.6" y2="1299" stroke="#000" stroke-width="4.5"/><line x1="595.3" y1="1271" x2="595.3" y2="1286" stroke="#000" stroke-width="3"/><line x1="720.1" y1="1271" x2="720.1" y2="1299" stroke="#000" stroke-width="4.5"/><line x1="844.9" y1="1271" x2="844.9" y2="1286" stroke="#000" stroke-width="3"/><line x1="969.7" y1="1271" x2="969.7" y2="1299" stroke="#000" stroke-width="4.5"/><line x1="1094.5" y1="1271" x2="1094.5" y2="1286" stroke="#000" stroke-width="3"/><line x1="1219.2" y1="1271" x2="1219.2" y2="1299" stroke="#000" stroke-width="4.5"/><line x1="1344.0" y1="1271" x2="1344.0" y2="1286" stroke="#000" stroke-width="3"/><line x1="1468.8" y1="1271" x2="1468.8" y2="1299" stroke="#000" stroke-width="4.5"/><line x1="1593.6" y1="1271" x2="1593.6" y2="1286" stroke="#000" stroke-width="3"/><line x1="1718.4" y1="1271" x2="1718.4" y2="1299" stroke="#000" stroke-width="4.5"/><line x1="1843.1" y1="1271" x2="1843.1" y2="1286" stroke="#000" stroke-width="3"/>
<text transform="translate(221.0,1374.5) scale(0.96,1)" font-size="79.5" text-anchor="middle">4000</text>
<text transform="translate(470.6,1374.5) scale(0.96,1)" font-size="79.5" text-anchor="middle">3500</text>
<text transform="translate(720.1,1374.5) scale(0.96,1)" font-size="79.5" text-anchor="middle">3000</text>
<text transform="translate(969.7,1374.5) scale(0.96,1)" font-size="79.5" text-anchor="middle">2500</text>
<text transform="translate(1219.2,1374.5) scale(0.96,1)" font-size="79.5" text-anchor="middle">2000</text>
<text transform="translate(1468.8,1374.5) scale(0.96,1)" font-size="79.5" text-anchor="middle">1500</text>
<text transform="translate(1718.4,1374.5) scale(0.96,1)" font-size="79.5" text-anchor="middle">1000</text>
<text transform="translate(630.9,1527.2) scale(0.970,1)" font-size="104.1">Wavenumber (nm)</text>
<text transform="translate(92.7,1140.6) rotate(-90) scale(0.9748,1)" font-size="103.8">Transimittance(a.u.)</text>
<text transform="translate(1564.75,130.6) scale(0.9336,1)" font-size="76.7">ZnO</text>
<text transform="translate(1557.3,348.2) scale(0.9124,1)" font-size="73.3">0.1:1</text>
<text y="553" font-size="73.5"><tspan x="1487.4" textLength="150.6" lengthAdjust="spacingAndGlyphs">0.1:1</tspan> <tspan x="1669.5" textLength="102.0" lengthAdjust="spacingAndGlyphs">CN</tspan></text>
<text font-size="72.6"><tspan x="1541.0" y="783.4" textLength="114.8" lengthAdjust="spacingAndGlyphs">g-C</tspan><tspan x="1661.1" y="811.9" font-size="43.2" textLength="20.3" lengthAdjust="spacingAndGlyphs">3</tspan><tspan x="1682.2" y="783.4" textLength="51.3" lengthAdjust="spacingAndGlyphs">N</tspan><tspan x="1732.9" y="811.7" font-size="42.8" textLength="23.6" lengthAdjust="spacingAndGlyphs">4</tspan></text>
</svg></body></html>
